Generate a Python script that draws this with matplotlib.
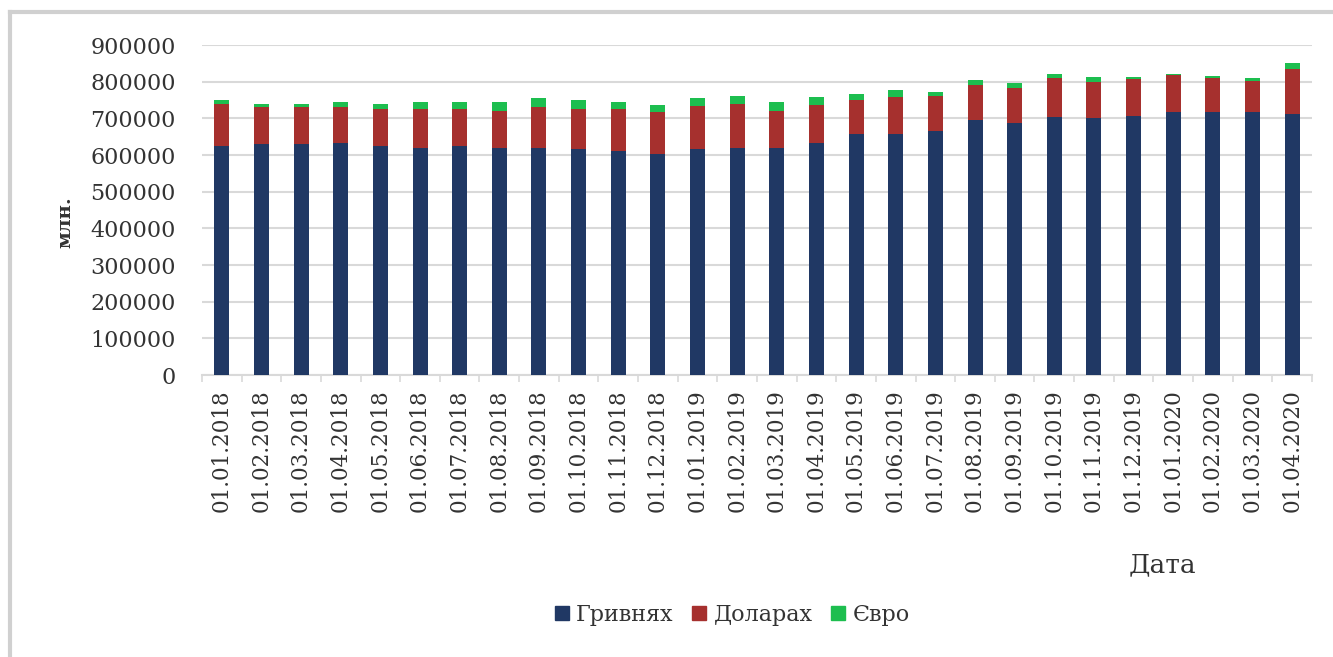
import matplotlib.pyplot as plt
import numpy as np
from matplotlib.lines import Line2D
from matplotlib.ticker import FixedLocator

dates = ['01.01.2018', '01.02.2018', '01.03.2018', '01.04.2018', '01.05.2018',
         '01.06.2018', '01.07.2018', '01.08.2018', '01.09.2018', '01.10.2018',
         '01.11.2018', '01.12.2018', '01.01.2019', '01.02.2019', '01.03.2019',
         '01.04.2019', '01.05.2019', '01.06.2019', '01.07.2019', '01.08.2019',
         '01.09.2019', '01.10.2019', '01.11.2019', '01.12.2019', '01.01.2020',
         '01.02.2020', '01.03.2020', '01.04.2020']
# deposits in hryvnia, dollars, euro (млн.)
uah = [625000, 630000, 631000, 634000, 625000, 620000, 625000, 618000, 620000, 616000,
       611000, 604000, 617000, 620000, 620000, 634000, 657000, 657000, 666000, 696000,
       686000, 705000, 701000, 707000, 716000, 716000, 716000, 713000]
usd = [115000, 100000, 101000, 98000, 101000, 106000, 101000, 103000, 110000, 110000,
       115000, 113000, 118000, 120000, 101000, 103000, 94000, 101000, 94000, 95000,
       96000, 104000, 97000, 100000, 101000, 94000, 86000, 121000]
eur = [9000, 8000, 8000, 12000, 14000, 18000, 18000, 23000, 25000, 25000,
       18000, 20000, 20000, 20000, 23000, 21000, 16000, 20000, 12000, 14000,
       13000, 11000, 14000, 5000, 5000, 6000, 8000, 16000]
series_names = ['Гривнях', 'Доларах', 'Євро']

colors = ['#203864', '#A6302E', '#1DBE4F']
serif = 'DejaVu Serif'

fig = plt.figure(figsize=(13.33, 6.57), dpi=100)
ax = fig.add_axes([202 / 1333, 1 - 375 / 657, 1110 / 1333, 330 / 657])

x = np.arange(len(dates))
w = 0.38
uah_a = np.array(uah)
usd_a = np.array(usd)
eur_a = np.array(eur)
ax.bar(x, uah_a, w, color=colors[0], zorder=3)
ax.bar(x, usd_a, w, bottom=uah_a, color=colors[1], zorder=3)
ax.bar(x, eur_a, w, bottom=uah_a + usd_a, color=colors[2], zorder=3)

ax.set_xlim(-0.5, len(dates) - 0.5)
ax.set_ylim(0, 900000)
ax.set_yticks(np.arange(0, 900001, 100000))
ax.yaxis.grid(True, color='#d9d9d9', linewidth=1.5, zorder=0)
ax.tick_params(axis='y', length=0, pad=19, labelsize=16, labelcolor='#333333')
ax.set_xticks(x)
ax.set_xticklabels(dates, rotation=90, fontsize=15.5, color='#333333', family=serif)
ax.tick_params(axis='x', which='major', length=0, pad=10)
ax.xaxis.set_minor_locator(FixedLocator(np.arange(-0.5, len(dates), 1)))
ax.tick_params(axis='x', which='minor', length=5, color='#d9d9d9', width=1.2)
for lab in ax.get_yticklabels():
    lab.set_family(serif)

for s in ['top', 'right', 'left']:
    ax.spines[s].set_visible(False)
ax.spines['bottom'].set_color('#d9d9d9')
ax.spines['bottom'].set_linewidth(1.5)

fig.text(65 / 1333, 1 - 222 / 657, 'млн.', rotation=90, ha='center', va='center',
         fontsize=14, fontweight='bold', family=serif, color='#333333')
fig.text(1162 / 1333, 1 - 565 / 657, 'Дата', ha='center', va='center',
         fontsize=19, family=serif, color='#333333')

handles = [Line2D([], [], marker='s', linestyle='', markersize=10, color=c) for c in colors]
fig.legend(handles, series_names, loc='center', bbox_to_anchor=(732 / 1333, 1 - 615 / 657),
           ncol=3, frameon=False, prop={'family': serif, 'size': 16},
           handlelength=0.7, handletextpad=0.3, columnspacing=0.8, labelcolor='#333333')

# thin frame along the top and left edges like the cropped source image
fig.add_artist(Line2D([10 / 1333, 10 / 1333], [0, 1 - 12 / 657], color='#d0d0d0', linewidth=3,
                      transform=fig.transFigure))
fig.add_artist(Line2D([10 / 1333, 1], [1 - 12 / 657, 1 - 12 / 657], color='#d0d0d0', linewidth=3,
                      transform=fig.transFigure))

fig.savefig('out.png', dpi=100)
